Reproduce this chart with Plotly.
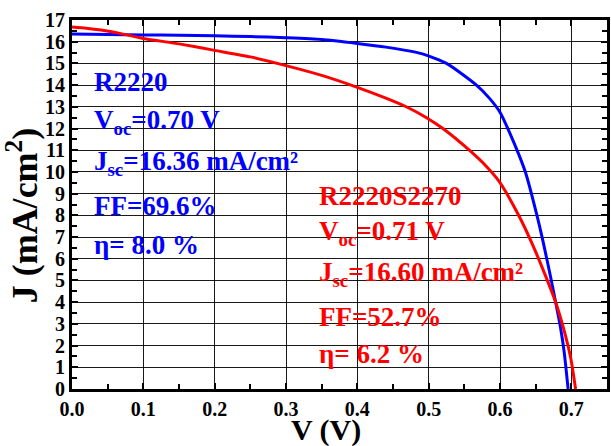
import plotly.graph_objects as go

# Series R2220 (blue)
v_r2220 = [0.0, 0.05, 0.10, 0.15, 0.20, 0.25, 0.30, 0.35, 0.40, 0.44, 0.49, 0.525,
           0.567, 0.585, 0.60, 0.613, 0.627, 0.636, 0.651, 0.661, 0.671, 0.678,
           0.685, 0.690, 0.6955]
j_r2220 = [16.36, 16.33, 16.31, 16.30, 16.27, 16.24, 16.18, 16.10, 15.92, 15.75, 15.45, 15.0,
           14.0, 13.4, 12.75, 11.85, 10.75, 9.95, 8.1, 6.7, 5.15, 4.0,
           2.8, 1.7, 0.0]

# Series R2220S2270 (red)
v_r2220s = [0.0, 0.02, 0.056, 0.10, 0.15, 0.20, 0.25, 0.30, 0.35, 0.40, 0.44, 0.47,
            0.497, 0.52, 0.557, 0.581, 0.599, 0.627, 0.645, 0.664, 0.678, 0.689,
            0.699, 0.706]
j_r2220s = [16.68, 16.62, 16.46, 16.15, 15.90, 15.60, 15.30, 14.90, 14.45, 13.90, 13.40, 12.98,
            12.50, 12.00, 11.00, 10.25, 9.55, 7.95, 6.70, 5.20, 4.00, 2.80,
            1.45, 0.0]

label_r2220 = ["R2220", "V<sub>oc</sub>=0.70 V", "J<sub>sc</sub>=16.36 mA/cm\u00b2",
               "FF=69.6%", "\u03b7= 8.0 %"]
label_r2220s = ["R2220S2270", "V<sub>oc</sub>=0.71 V", "J<sub>sc</sub>=16.60 mA/cm\u00b2",
                "FF=52.7%", "\u03b7= 6.2 %"]
label_pos_r2220 = [14.13, 12.30, 10.42, 8.45, 6.62]
label_pos_r2220s = [8.87, 7.17, 5.30, 3.33, 1.60]

FONT = "Liberation Serif, Times New Roman, serif"

fig = go.Figure()
fig.add_trace(go.Scatter(x=v_r2220, y=j_r2220, mode="lines",
                         line=dict(color="#0000FF", width=3, shape="spline", smoothing=0.6),
                         showlegend=False))
fig.add_trace(go.Scatter(x=v_r2220s, y=j_r2220s, mode="lines",
                         line=dict(color="#FF0000", width=3, shape="spline", smoothing=0.6),
                         showlegend=False))

annotations = []
for txt, yv in zip(label_r2220, label_pos_r2220):
    annotations.append(dict(x=0.0287, y=yv, xref="x", yref="y", text=txt, showarrow=False,
                            xanchor="left", yanchor="middle",
                            font=dict(family=FONT, size=27, color="#0000FF", weight="bold")))
for txt, yv in zip(label_r2220s, label_pos_r2220s):
    annotations.append(dict(x=0.3435, y=yv, xref="x", yref="y", text=txt, showarrow=False,
                            xanchor="left", yanchor="middle",
                            font=dict(family=FONT, size=27, color="#FF0000", weight="bold")))
annotations.append(dict(x=0.474, y=-0.112, xref="paper", yref="paper", text="V (V)",
                        showarrow=False, xanchor="center", yanchor="middle",
                        font=dict(family=FONT, size=30, color="black", weight="bold")))
annotations.append(dict(x=-0.092, y=0.47, xref="paper", yref="paper", text="J (mA/cm<sup>2</sup>)",
                        showarrow=False, xanchor="center", yanchor="middle", textangle=-90,
                        font=dict(family=FONT, size=36, color="black", weight="bold")))

axis_common = dict(
    showline=True, linewidth=3, linecolor="black", mirror="allticks",
    ticks="inside", ticklen=6, tickwidth=2, tickcolor="black",
    showgrid=True, gridcolor="rgba(0,0,0,0.9)", gridwidth=1,
    zeroline=False,
    tickfont=dict(family=FONT, size=20, color="black", weight="bold"),
)

fig.update_layout(
    width=611, height=446,
    margin=dict(l=72, r=1, t=20, b=57),
    paper_bgcolor="white", plot_bgcolor="white",
    annotations=annotations,
    xaxis=dict(range=[0, 0.75], dtick=0.1, tick0=0, tickformat=".1f", ticklabelstandoff=0,
               minor=dict(dtick=0.05, ticks="inside", ticklen=5, tickwidth=2, tickcolor="black", showgrid=False),
               **axis_common),
    yaxis=dict(range=[0, 17], dtick=1, tick0=0,
               minor=dict(dtick=0.5, ticks="inside", ticklen=5, tickwidth=2, tickcolor="black", showgrid=False),
               **axis_common),
)

fig.write_html("out.html", config={"displayModeBar": False},
               post_script="document.body.style.margin='0';document.body.style.padding='0';")
